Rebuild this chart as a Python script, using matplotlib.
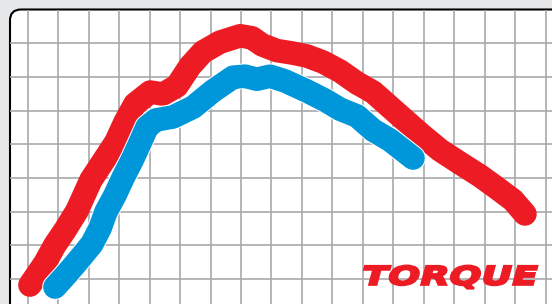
import matplotlib.pyplot as plt
import matplotlib.patheffects as pe
from matplotlib.patches import FancyBboxPatch
from matplotlib.transforms import Affine2D, IdentityTransform

# Curves, in grid units (one unit = one grid cell)
red_x = [0.08, 0.57, 0.90, 1.23, 1.62, 2.08, 2.51, 2.90, 3.20, 3.52, 4.02, 4.44,
         4.90, 5.33, 5.75, 6.31, 6.97, 7.36, 7.69, 8.18, 8.67, 9.16, 9.69, 10.25,
         10.80, 11.33, 11.89, 12.44, 12.97, 13.52, 14.18, 14.84, 15.39, 15.92, 16.31]
red_y = [-0.18, 0.47, 1.01, 1.45, 2.02, 2.94, 3.53, 4.07, 4.66, 5.19, 5.55, 5.49,
         5.73, 6.32, 6.74, 7.03, 7.22, 7.16, 6.95, 6.78, 6.71, 6.62, 6.44, 6.17,
         5.82, 5.55, 5.10, 4.66, 4.24, 3.83, 3.44, 3.06, 2.70, 2.34, 1.93]

blue_x = [0.90, 1.23, 1.62, 2.11, 2.38, 2.57, 2.87, 3.13, 3.43, 3.69, 3.92, 4.21,
          4.77, 5.43, 6.08, 6.74, 7.13, 7.52, 7.95, 8.44, 9.16, 9.75, 10.25, 10.80,
          11.33, 11.89, 12.64]
blue_y = [-0.24, 0.09, 0.50, 1.04, 1.51, 1.99, 2.49, 3.00, 3.53, 4.04, 4.51, 4.72,
          4.81, 5.10, 5.58, 5.99, 6.02, 5.93, 6.02, 5.88, 5.58, 5.31, 5.04, 4.84,
          4.42, 4.12, 3.59]

label = "TORQUE"

RED = "#ED1C24"
BLUE = "#0096DA"


# stretches, slants and thickens the glyphs of a text, the text stays a Text
class Stretch(pe.AbstractPathEffect):
    def __init__(self, sx=1.0, skew=0.0, weight=0.0):
        super().__init__()
        self.sx = sx
        self.skew = skew
        self.weight = weight

    def draw_path(self, renderer, gc, tpath, affine, rgbFace=None):
        extra = Affine2D().scale(self.sx, 1.0).skew_deg(self.skew, 0)
        gc0 = renderer.new_gc()
        gc0.copy_properties(gc)
        gc0.set_foreground(rgbFace)
        gc0.set_linewidth(self.weight)
        gc0.set_joinstyle("miter")
        renderer.draw_path(gc0, tpath, extra + affine, rgbFace)
        gc0.restore()


fig = plt.figure(figsize=(5.52, 3.04), dpi=100, facecolor="#E6E7E8")
ax = fig.add_axes([10 / 552, 0, 542 / 552, 294.5 / 304])
ax.patch.set_visible(False)

# white panel with the rounded top-left corner
panel = FancyBboxPatch((10, -60), 620, 354.5, boxstyle="round,pad=0,rounding_size=11",
                       transform=IdentityTransform(), facecolor="white",
                       edgecolor="black", linewidth=1.5, clip_on=False, zorder=0.1)
ax.add_patch(panel)

ax.set_xlim(-0.574, 17.197)
ax.set_ylim(-0.742, 8.0)
ax.set_xticks(range(0, 18))
ax.set_yticks(range(0, 8))
ax.tick_params(length=0, labelbottom=False, labelleft=False)
ax.set_axisbelow(True)
ax.grid(True, color="#A7A9AC", linewidth=1.2)
for s in ax.spines.values():
    s.set_visible(False)

ax.plot(red_x, red_y, color=RED, linewidth=17,
        solid_capstyle="round", solid_joinstyle="round", zorder=2)
ax.plot(blue_x, blue_y, color=BLUE, linewidth=17,
        solid_capstyle="round", solid_joinstyle="round", zorder=3,
        path_effects=[pe.Stroke(linewidth=18.5, foreground="white"), pe.Normal()])

ax.text(10.9, -0.17, label, color=RED, fontsize=18.5, fontweight="bold",
        ha="left", va="baseline", zorder=4,
        path_effects=[Stretch(sx=1.47, skew=15, weight=1.6)])

fig.savefig("out.png", dpi=100, facecolor=fig.get_facecolor())
